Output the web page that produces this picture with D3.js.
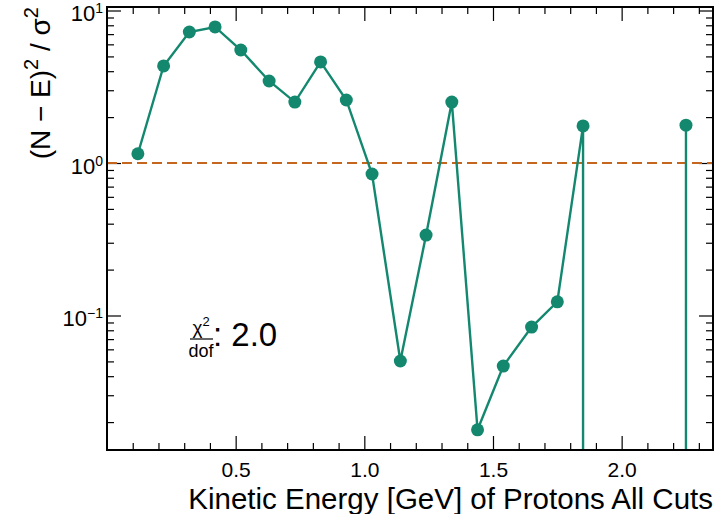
<!DOCTYPE html>
<html>
<head>
<meta charset="utf-8">
<script src="https://cdn.jsdelivr.net/npm/d3@7"></script>
<style>
  html, body { margin: 0; padding: 0; background: #fff; }
  svg { display: block; font-family: "Liberation Sans", Arial, sans-serif; }
</style>
</head>
<body>
<div id="chart"></div>
<script>
// bin centres (GeV) and (N-E)^2/sigma^2 per bin; 0 = empty bin (drops off the log axis)
const energy = [0.12, 0.22, 0.32, 0.42, 0.52, 0.63, 0.73, 0.83, 0.93, 1.03, 1.14,
  1.24, 1.34, 1.44, 1.54, 1.65, 1.75, 1.85, 1.95, 2.05, 2.15, 2.25];
const chi2 = [1.15, 4.33, 7.23, 7.8, 5.51, 3.45, 2.51, 4.6, 2.59, 0.847, 0.0503,
  0.337, 2.51, 0.0178, 0.0466, 0.084, 0.123, 1.75, 0, 0, 0, 1.77];
const xMajor = [0.5, 1.0, 1.5, 2.0];
const xMinor = [0.1, 0.2, 0.3, 0.4, 0.6, 0.7, 0.8, 0.9, 1.1, 1.2, 1.3, 1.4, 1.6, 1.7, 1.8, 1.9, 2.1, 2.2, 2.3];
const yMajor = [0.1, 1, 10];
const yExp = ["\u22121", "0", "1"];
const yMinor = [0.02, 0.03, 0.04, 0.05, 0.06, 0.07, 0.08, 0.09,
  0.2, 0.3, 0.4, 0.5, 0.6, 0.7, 0.8, 0.9, 2, 3, 4, 5, 6, 7, 8, 9];
const reference = 1;
const chi2PerDof = "2.0";

const TEAL = "#13886f";
const ORANGE = "#c4661d";

const W = 720, H = 514;
const pL = 107, pR = 713, pT = 7, pB = 450;

const svg = d3.select("#chart").append("svg").attr("width", W).attr("height", H);

const x = d3.scaleLinear().domain([0, 2.355]).range([pL, pR]);
const y = d3.scaleLog().domain([Math.pow(10, -1.882), Math.pow(10, 1.023)]).range([pB, pT]);

svg.append("clipPath").attr("id", "plot-clip")
  .append("rect").attr("x", pL).attr("y", pT).attr("width", pR - pL).attr("height", pB - pT);

function styleAxis(g) {
  g.select(".domain").remove();
  g.selectAll(".tick line").attr("stroke", "#000").attr("stroke-width", 1.2);
}

// major + minor ticks on all four sides, pointing inwards
const bottomMaj = svg.append("g").attr("transform", `translate(0,${pB})`)
  .call(d3.axisBottom(x).tickValues(xMajor).tickSizeInner(-14).tickSizeOuter(0).tickPadding(6)
    .tickFormat(d3.format(".1f")))
  .call(styleAxis);
bottomMaj.selectAll(".tick text").attr("fill", "#000").attr("font-size", 21).attr("dy", "1.0em");

svg.append("g").attr("transform", `translate(0,${pB})`)
  .call(d3.axisBottom(x).tickValues(xMinor).tickSizeInner(-7).tickSizeOuter(0).tickFormat(""))
  .call(styleAxis);
svg.append("g").attr("transform", `translate(0,${pT})`)
  .call(d3.axisTop(x).tickValues(xMajor).tickSizeInner(-14).tickSizeOuter(0).tickFormat(""))
  .call(styleAxis);
svg.append("g").attr("transform", `translate(0,${pT})`)
  .call(d3.axisTop(x).tickValues(xMinor).tickSizeInner(-7).tickSizeOuter(0).tickFormat(""))
  .call(styleAxis);

const leftMaj = svg.append("g").attr("transform", `translate(${pL},0)`)
  .call(d3.axisLeft(y).tickValues(yMajor).tickSizeInner(-14).tickSizeOuter(0).tickFormat(""))
  .call(styleAxis);
svg.append("g").attr("transform", `translate(${pL},0)`)
  .call(d3.axisLeft(y).tickValues(yMinor).tickSizeInner(-7).tickSizeOuter(0).tickFormat(""))
  .call(styleAxis);
svg.append("g").attr("transform", `translate(${pR},0)`)
  .call(d3.axisRight(y).tickValues(yMajor).tickSizeInner(-14).tickSizeOuter(0).tickFormat(""))
  .call(styleAxis);
svg.append("g").attr("transform", `translate(${pR},0)`)
  .call(d3.axisRight(y).tickValues(yMinor).tickSizeInner(-7).tickSizeOuter(0).tickFormat(""))
  .call(styleAxis);

// 10^n labels
leftMaj.selectAll(".tick").each(function(d, i) {
  const t = d3.select(this).append("text")
    .attr("x", -4).attr("y", 10).attr("text-anchor", "end")
    .attr("fill", "#000").attr("font-size", 22);
  t.append("tspan").text("10");
  t.append("tspan").attr("font-size", 14).attr("dy", -8).text(yExp[i]);
});

// reference line at 1
svg.append("line")
  .attr("x1", pL).attr("x2", pR).attr("y1", y(reference)).attr("y2", y(reference))
  .attr("stroke", ORANGE).attr("stroke-width", 2).attr("stroke-dasharray", "10 5");

// data: empty bins are sent far below the frame, like a clipped log axis
const yPos = v => v > 0 ? y(v) : 1e6;
const plot = svg.append("g").attr("clip-path", "url(#plot-clip)");
const line = d3.line().x((d, i) => x(energy[i])).y(d => yPos(d));
plot.append("path").datum(chi2)
  .attr("d", line).attr("fill", "none").attr("stroke", TEAL).attr("stroke-width", 2.4);
plot.selectAll("circle").data(chi2.map((v, i) => ({ e: energy[i], v })).filter(d => d.v > 0))
  .join("circle")
  .attr("cx", d => x(d.e)).attr("cy", d => y(d.v)).attr("r", 6.5).attr("fill", TEAL);

// frame
svg.append("rect")
  .attr("x", pL).attr("y", pT).attr("width", pR - pL).attr("height", pB - pT)
  .attr("fill", "none").attr("stroke", "#000").attr("stroke-width", 2);

// axis titles
svg.append("text")
  .attr("x", pR).attr("y", 509).attr("text-anchor", "end")
  .attr("font-size", 29.5).attr("fill", "#000")
  .text("Kinetic Energy [GeV] of Protons All Cuts");

const yTitle = svg.append("text")
  .attr("transform", `translate(50,${pT}) rotate(-90)`)
  .attr("text-anchor", "end").attr("font-size", 28).attr("fill", "#000");
yTitle.append("tspan").text("(N \u2212 E)");
yTitle.append("tspan").attr("font-size", 20).attr("dy", -12).text("2");
yTitle.append("tspan").attr("dy", 12).text(" / \u03c3");
yTitle.append("tspan").attr("font-size", 20).attr("dy", -12).text("2");

// chi2 / dof annotation
const ann = svg.append("g").attr("transform", "translate(201,0)");
const num = ann.append("text").attr("x", 0).attr("y", 334).attr("text-anchor", "middle")
  .attr("font-size", 19).attr("fill", "#000");
num.append("tspan").text("\u03c7");
num.append("tspan").attr("font-size", 13).attr("dy", -8).text("2");
ann.append("line").attr("x1", -11).attr("x2", 12).attr("y1", 339).attr("y2", 339)
  .attr("stroke", "#000").attr("stroke-width", 1.2);
ann.append("text").attr("x", 0).attr("y", 357).attr("text-anchor", "middle")
  .attr("font-size", 18).attr("fill", "#000").text("dof");
ann.append("text").attr("x", 12).attr("y", 346)
  .attr("font-size", 33).attr("fill", "#000").text(": " + chi2PerDof);
</script>
</body>
</html>
